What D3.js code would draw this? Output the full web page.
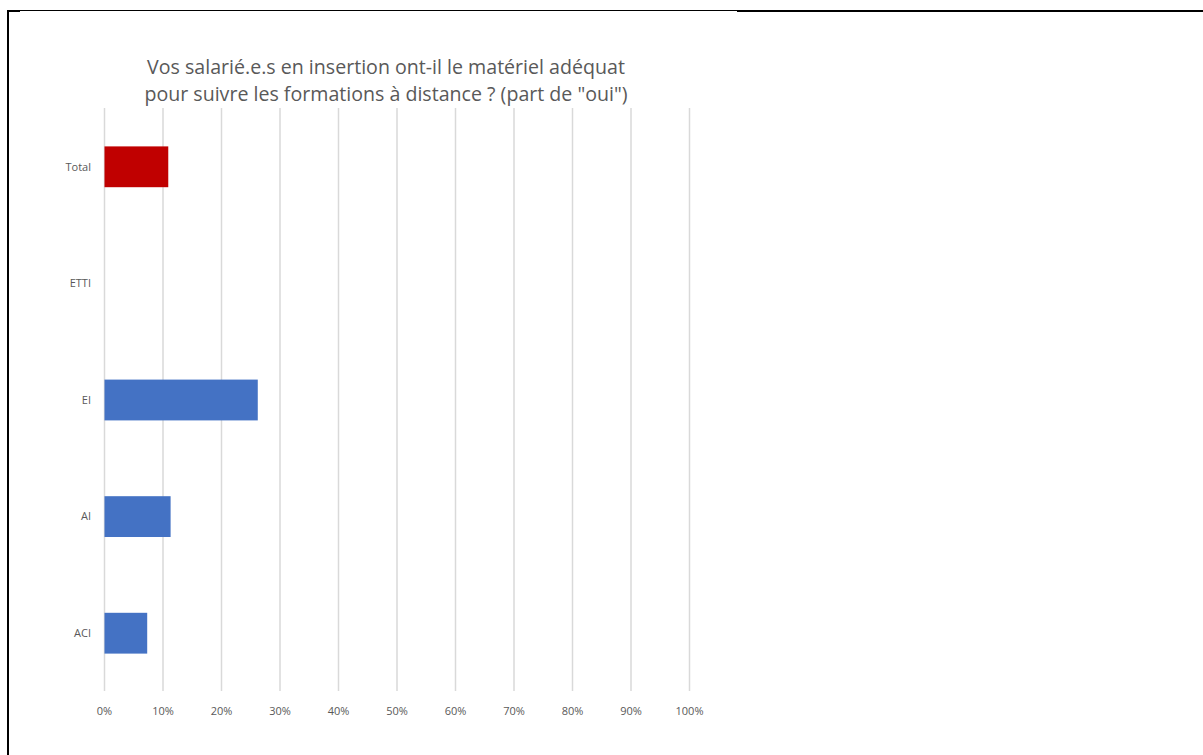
<!DOCTYPE html>
<html lang="fr">
<head>
  <meta charset="UTF-8">
  <title>Matériel adéquat pour les formations à distance</title>
  <script src="https://d3js.org/d3.v7.min.js"></script>
  <style>
    body {
      margin: 0;
      background: #fff;
      font-family: "Open Sans", "Liberation Sans", sans-serif;
    }
    svg { display: block; }
    .grid line { stroke: #d9d9d9; stroke-width: 1.5; }
    .tick-label { fill: #595959; font-size: 11px; }
    .title { fill: #595959; font-size: 19.6px; }
  </style>
</head>
<body>
  <svg id="chart" width="1203" height="755"></svg>

  <script>
    // data
    const categories = ["Total", "ETTI", "EI", "AI", "ACI"];
    const values = [0.109, 0, 0.262, 0.113, 0.073];
    const barColors = ["#c00000", "#4472c4", "#4472c4", "#4472c4", "#4472c4"];
    const xTicks = [0, 0.1, 0.2, 0.3, 0.4, 0.5, 0.6, 0.7, 0.8, 0.9, 1];
    const titleLines = [
      "Vos salarié.e.s en insertion ont-il le matériel adéquat",
      "pour suivre les formations à distance ? (part de \"oui\")"
    ];

    const svg = d3.select("#chart");

    // page frame (scanned border)
    svg.append("line").attr("x1", 7).attr("x2", 737).attr("y1", 10.5).attr("y2", 10.5)
      .attr("stroke", "#000").attr("stroke-width", 1);
    svg.append("line").attr("x1", 737).attr("x2", 1203).attr("y1", 11).attr("y2", 11)
      .attr("stroke", "#000").attr("stroke-width", 2);
    svg.append("line").attr("x1", 7).attr("x2", 20).attr("y1", 11).attr("y2", 11)
      .attr("stroke", "#000").attr("stroke-width", 2);
    svg.append("line").attr("x1", 8).attr("x2", 8).attr("y1", 10).attr("y2", 755)
      .attr("stroke", "#000").attr("stroke-width", 2);

    const x = d3.scaleLinear()
      .domain([0, 1])
      .range([104.5, 689.5]);

    const y = d3.scaleBand()
      .domain(categories)
      .range([108.5, 691.5])
      .paddingInner(0.65)
      .paddingOuter(0.325);

    // vertical gridlines
    svg.append("g")
      .attr("class", "grid")
      .selectAll("line")
      .data(xTicks)
      .join("line")
        .attr("x1", d => x(d))
        .attr("x2", d => x(d))
        .attr("y1", 108)
        .attr("y2", 691);

    // bars
    svg.append("g")
      .selectAll("rect")
      .data(values)
      .join("rect")
        .attr("x", x(0))
        .attr("y", (d, i) => y(categories[i]))
        .attr("width", d => x(d) - x(0))
        .attr("height", y.bandwidth())
        .attr("fill", (d, i) => barColors[i]);

    // category labels
    svg.append("g")
      .selectAll("text")
      .data(categories)
      .join("text")
        .attr("class", "tick-label")
        .attr("x", 91)
        .attr("y", d => y(d) + y.bandwidth() / 2)
        .attr("dy", "0.35em")
        .attr("text-anchor", "end")
        .text(d => d);

    // x tick labels
    svg.append("g")
      .selectAll("text")
      .data(xTicks)
      .join("text")
        .attr("class", "tick-label")
        .attr("x", d => x(d))
        .attr("y", 715)
        .attr("text-anchor", "middle")
        .text(d3.format(".0%"));

    // title
    svg.append("g")
      .selectAll("text")
      .data(titleLines)
      .join("text")
        .attr("class", "title")
        .attr("x", 386)
        .attr("y", (d, i) => 74 + i * 27)
        .attr("text-anchor", "middle")
        .text(d => d);
  </script>
</body>
</html>
